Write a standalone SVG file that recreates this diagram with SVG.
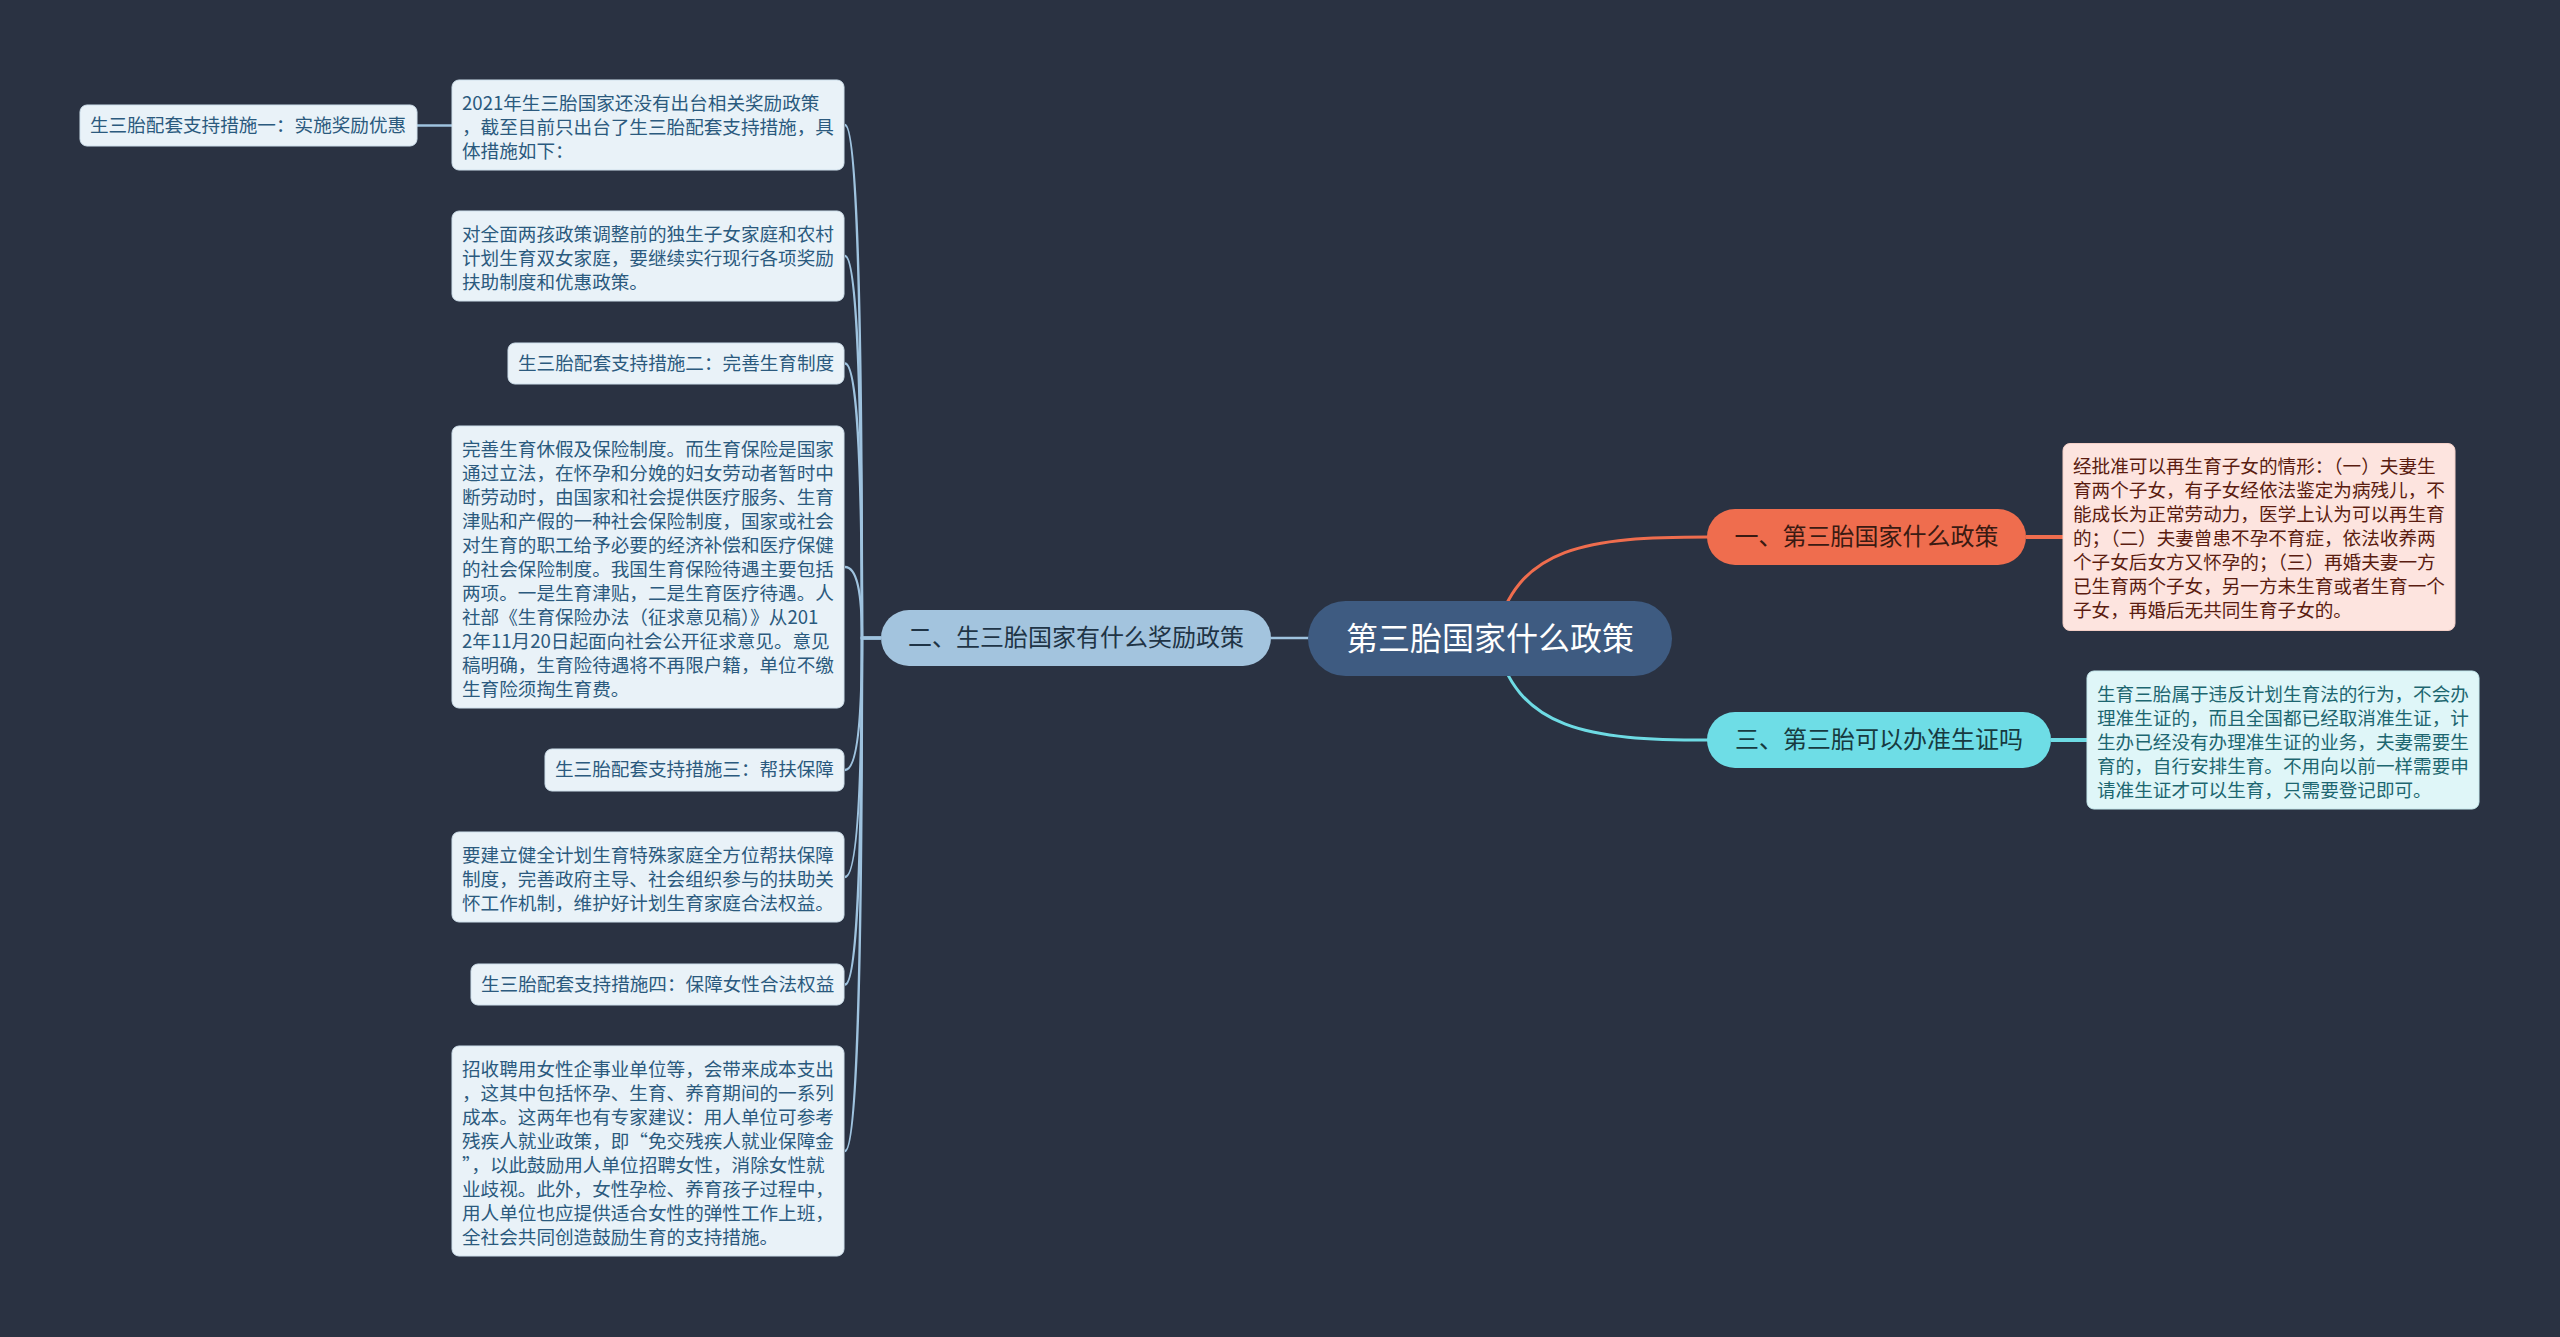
<svg xmlns="http://www.w3.org/2000/svg" width="2560" height="1337" viewBox="0 0 2560 1337">
<style>
text{font-family:"Noto Sans CJK SC","Noto Sans",sans-serif;dominant-baseline:central;transform:translateY(-2.5px)}
.leaf rect{fill:#e9f2f8;stroke:#cfe0ec;stroke-width:1}
.leaf text{font-size:18.6px;fill:#2b5a7e}
.pill text{font-size:24px;text-anchor:middle}
.lb{fill:none;stroke:#9fc3df;stroke-width:2.4}
</style>
<rect x="0" y="0" width="2560" height="1337" fill="#2a3242"/>

<g id="connectors">
  <path class="lb" d="M1271,638 L1309,638" stroke-width="3"/>
  <path class="lb" d="M452,125.5 L417,125.5" stroke-width="4"/>
  <path class="lb" d="M881,638 L862,638 Q862,125 845,125"/>
  <path class="lb" d="M881,638 L862,638 Q862,256 845,256"/>
  <path class="lb" d="M881,638 L862,638 Q862,363.5 845,363.5"/>
  <path class="lb" d="M881,638 L862,638 Q862,567 845,567"/>
  <path class="lb" d="M881,638 L862,638 Q862,770 845,770"/>
  <path class="lb" d="M881,638 L862,638 Q862,877 845,877"/>
  <path class="lb" d="M881,638 L862,638 Q862,984.5 845,984.5"/>
  <path class="lb" d="M881,638 L862,638 Q862,1151 845,1151"/>
  <path d="M1495,638 C1515,545 1590,537 1708,537" fill="none" stroke="#ef6d4e" stroke-width="3"/>
  <path d="M2026,537 L2063,537" fill="none" stroke="#ef6d4e" stroke-width="4"/>
  <path d="M1495,638 C1515,731 1590,740 1708,740" fill="none" stroke="#6edbe4" stroke-width="3"/>
  <path d="M2051,740 L2087,740" fill="none" stroke="#6edbe4" stroke-width="4"/>
</g>

<g id="center">
  <rect x="1308" y="601" width="364" height="75" rx="37.5" fill="#3e5b81"/>
  <text x="1490" y="638.5" font-size="32" fill="#ffffff" text-anchor="middle">第三胎国家什么政策</text>
</g>

<g id="branch2" class="pill">
  <rect x="881" y="610" width="390" height="56" rx="28" fill="#a3c4de"/>
  <text x="1076" y="638" fill="#1f3446">二、生三胎国家有什么奖励政策</text>
</g>

<g id="branch1" class="pill">
  <rect x="1707" y="509" width="319" height="56" rx="28" fill="#ef6d4e"/>
  <text x="1866.5" y="537" fill="#3a1a12">一、第三胎国家什么政策</text>
</g>

<g id="branch3" class="pill">
  <rect x="1707" y="712" width="344" height="56" rx="28" fill="#6edde6"/>
  <text x="1879" y="740" fill="#173a40">三、第三胎可以办准生证吗</text>
</g>

<g id="detail1">
  <rect x="2063" y="443.5" width="392" height="187" rx="7" fill="#fde4df" stroke="#f3cfc7" stroke-width="1"/>
  <text font-size="18.6" fill="#5a1c10">
    <tspan x="2073" y="466.5">经批准可以再生育子女的情形：（一）夫妻生</tspan>
    <tspan x="2073" y="490.5">育两个子女，有子女经依法鉴定为病残儿，不</tspan>
    <tspan x="2073" y="514.5">能成长为正常劳动力，医学上认为可以再生育</tspan>
    <tspan x="2073" y="538.5">的；（二）夫妻曾患不孕不育症，依法收养两</tspan>
    <tspan x="2073" y="562.5">个子女后女方又怀孕的；（三）再婚夫妻一方</tspan>
    <tspan x="2073" y="586.5">已生育两个子女，另一方未生育或者生育一个</tspan>
    <tspan x="2073" y="610.5">子女，再婚后无共同生育子女的。</tspan>
  </text>
</g>

<g id="detail3">
  <rect x="2087" y="671" width="392" height="138" rx="7" fill="#dff6f8" stroke="#c6eaee" stroke-width="1"/>
  <text font-size="18.6" fill="#1d6670">
    <tspan x="2097" y="694">生育三胎属于违反计划生育法的行为，不会办</tspan>
    <tspan x="2097" y="718">理准生证的，而且全国都已经取消准生证，计</tspan>
    <tspan x="2097" y="742">生办已经没有办理准生证的业务，夫妻需要生</tspan>
    <tspan x="2097" y="766">育的，自行安排生育。不用向以前一样需要申</tspan>
    <tspan x="2097" y="790">请准生证才可以生育，只需要登记即可。</tspan>
  </text>
</g>

<g id="leaf1" class="leaf">
  <rect x="452" y="80" width="392" height="90" rx="7"/>
  <text>
    <tspan x="462" y="103">2021年生三胎国家还没有出台相关奖励政策</tspan>
    <tspan x="462" y="127">，截至目前只出台了生三胎配套支持措施，具</tspan>
    <tspan x="462" y="151">体措施如下：</tspan>
  </text>
</g>

<g id="leaf1a" class="leaf">
  <rect x="80" y="105" width="337" height="41" rx="7"/>
  <text x="90" y="125.5">生三胎配套支持措施一：实施奖励优惠</text>
</g>

<g id="leaf2" class="leaf">
  <rect x="452" y="211" width="392" height="90" rx="7"/>
  <text>
    <tspan x="462" y="234">对全面两孩政策调整前的独生子女家庭和农村</tspan>
    <tspan x="462" y="258">计划生育双女家庭，要继续实行现行各项奖励</tspan>
    <tspan x="462" y="282">扶助制度和优惠政策。</tspan>
  </text>
</g>

<g id="leaf3" class="leaf">
  <rect x="508" y="343" width="336" height="41" rx="7"/>
  <text x="518" y="363.5">生三胎配套支持措施二：完善生育制度</text>
</g>

<g id="leaf4" class="leaf">
  <rect x="452" y="426" width="392" height="282" rx="7"/>
  <text>
    <tspan x="462" y="449">完善生育休假及保险制度。而生育保险是国家</tspan>
    <tspan x="462" y="473">通过立法，在怀孕和分娩的妇女劳动者暂时中</tspan>
    <tspan x="462" y="497">断劳动时，由国家和社会提供医疗服务、生育</tspan>
    <tspan x="462" y="521">津贴和产假的一种社会保险制度，国家或社会</tspan>
    <tspan x="462" y="545">对生育的职工给予必要的经济补偿和医疗保健</tspan>
    <tspan x="462" y="569">的社会保险制度。我国生育保险待遇主要包括</tspan>
    <tspan x="462" y="593">两项。一是生育津贴，二是生育医疗待遇。人</tspan>
    <tspan x="462" y="617">社部《生育保险办法（征求意见稿）》从201</tspan>
    <tspan x="462" y="641">2年11月20日起面向社会公开征求意见。意见</tspan>
    <tspan x="462" y="665">稿明确，生育险待遇将不再限户籍，单位不缴</tspan>
    <tspan x="462" y="689">生育险须掏生育费。</tspan>
  </text>
</g>

<g id="leaf5" class="leaf">
  <rect x="545" y="749" width="299" height="42" rx="7"/>
  <text x="555" y="770">生三胎配套支持措施三：帮扶保障</text>
</g>

<g id="leaf6" class="leaf">
  <rect x="452" y="832" width="392" height="90" rx="7"/>
  <text>
    <tspan x="462" y="855">要建立健全计划生育特殊家庭全方位帮扶保障</tspan>
    <tspan x="462" y="879">制度，完善政府主导、社会组织参与的扶助关</tspan>
    <tspan x="462" y="903">怀工作机制，维护好计划生育家庭合法权益。</tspan>
  </text>
</g>

<g id="leaf7" class="leaf">
  <rect x="471" y="964" width="373" height="41" rx="7"/>
  <text x="481" y="984.5">生三胎配套支持措施四：保障女性合法权益</text>
</g>

<g id="leaf8" class="leaf">
  <rect x="452" y="1046" width="392" height="210" rx="7"/>
  <text>
    <tspan x="462" y="1069">招收聘用女性企事业单位等，会带来成本支出</tspan>
    <tspan x="462" y="1093">，这其中包括怀孕、生育、养育期间的一系列</tspan>
    <tspan x="462" y="1117">成本。这两年也有专家建议：用人单位可参考</tspan>
    <tspan x="462" y="1141">残疾人就业政策，即“免交残疾人就业保障金</tspan>
    <tspan x="462" y="1165">”，以此鼓励用人单位招聘女性，消除女性就</tspan>
    <tspan x="462" y="1189">业歧视。此外，女性孕检、养育孩子过程中，</tspan>
    <tspan x="462" y="1213">用人单位也应提供适合女性的弹性工作上班，</tspan>
    <tspan x="462" y="1237">全社会共同创造鼓励生育的支持措施。</tspan>
  </text>
</g>
</svg>
